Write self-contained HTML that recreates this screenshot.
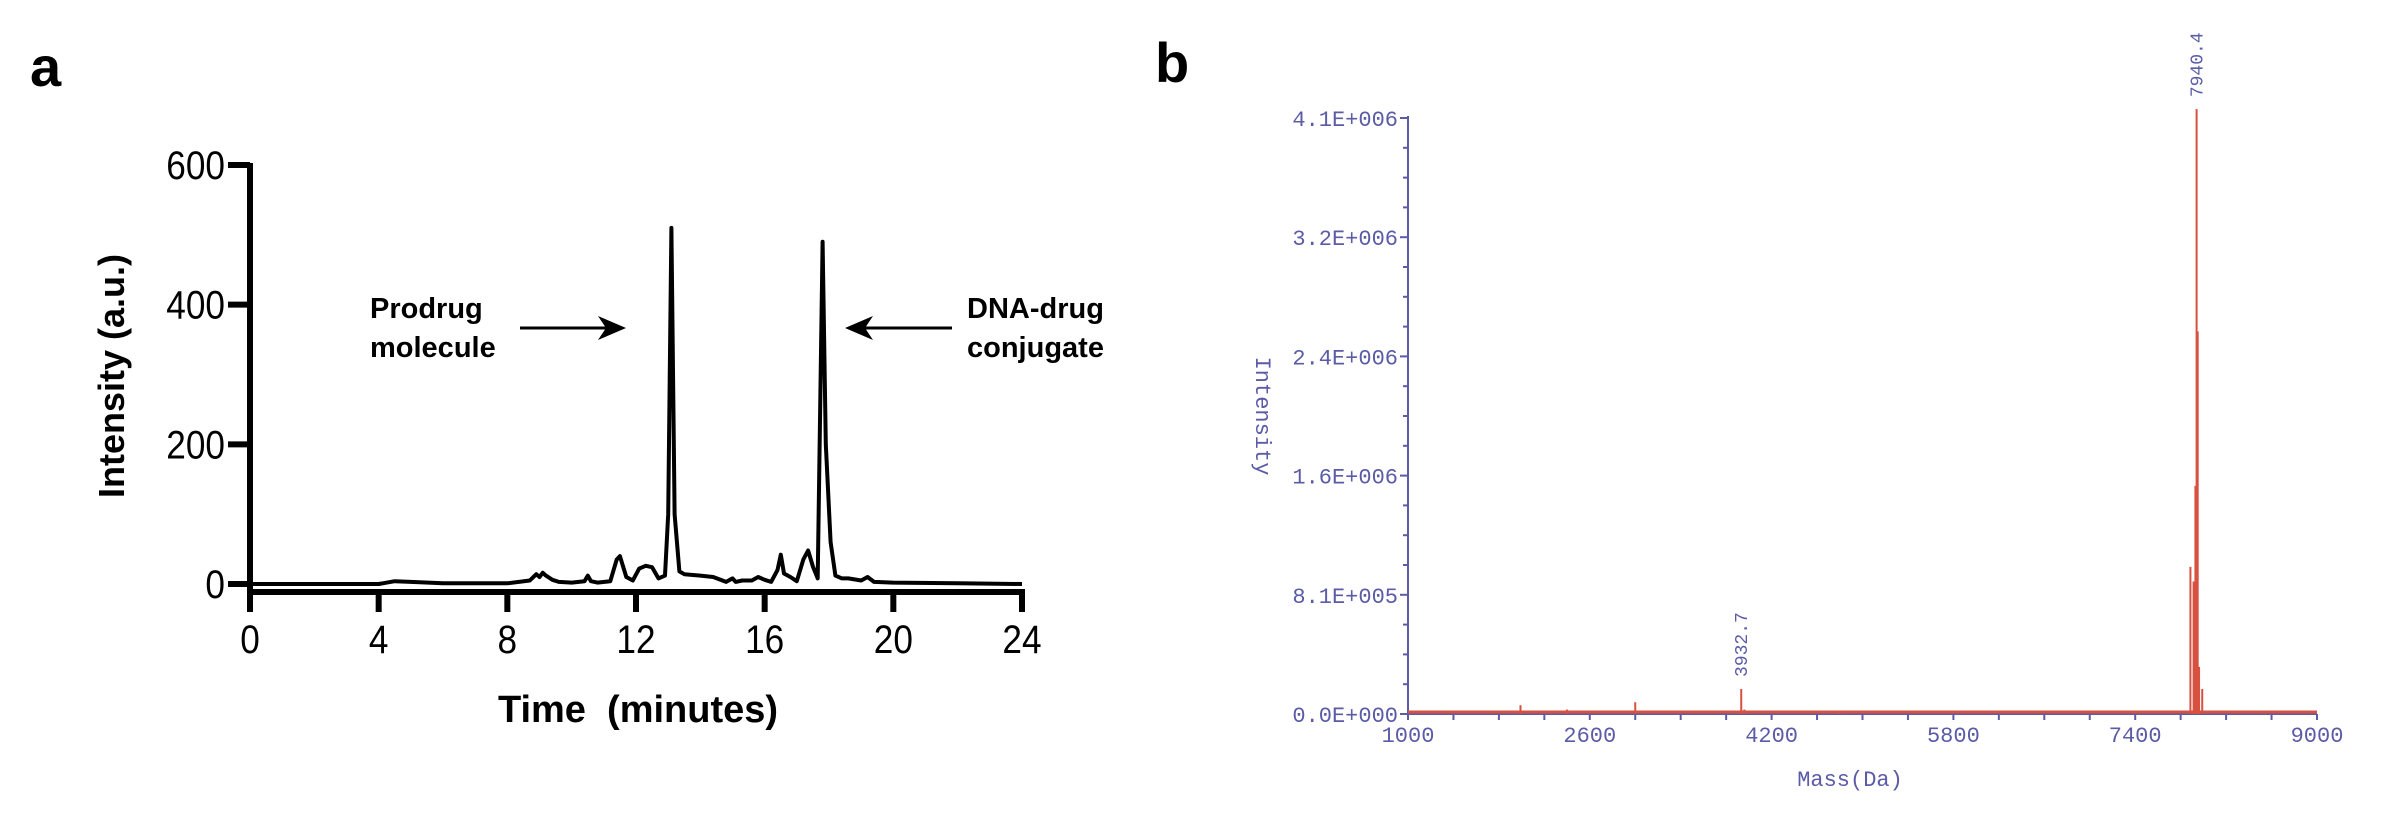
<!DOCTYPE html>
<html><head><meta charset="utf-8">
<style>
html,body{margin:0;padding:0;background:#fff;}
svg{display:block;}
</style></head>
<body>
<svg id="fig" width="2384" height="830" viewBox="0 0 2384 830" xmlns="http://www.w3.org/2000/svg">
  <text x="30" y="86" font-family="Liberation Sans, sans-serif" font-weight="bold" font-size="56" fill="#000">a</text>
  <text x="1155" y="82" font-family="Liberation Sans, sans-serif" font-weight="bold" font-size="56" fill="#000">b</text>
  <g id="chartA"></g>
  <g id="chartB"></g>
</svg>
<script>
// ---- Panel a data ----
const timeMin = [0,4,4.5,5,6,8,8.7,8.9,9.0,9.1,9.2,9.4,9.6,10,10.4,10.5,10.6,10.8,11.2,11.4,11.5,11.7,11.9,12.1,12.3,12.5,12.7,12.9,13.0,13.1,13.2,13.35,13.5,14,14.4,14.8,15.0,15.1,15.3,15.6,15.8,16.0,16.2,16.4,16.5,16.6,16.8,17.0,17.2,17.35,17.5,17.65,17.8,17.9,18.05,18.2,18.4,18.6,19,19.2,19.4,20,22,24];
const intensityAU = [0,0,4,3,1,1,5,14,10,16,12,6,3,2,4,12,4,2,4,35,40,10,5,22,26,24,8,12,100,510,100,18,14,12,10,3,8,3,5,5,10,6,3,20,42,15,10,4,35,48,25,8,490,200,60,12,8,8,5,10,3,2,1,0];
const aXTicks = [0,4,8,12,16,20,24];
const aYTicks = [0,200,400,600];

// ---- Panel b data ----
const massDa = [1990,2400,3000,3932.7,3960,4800,7886,7914,7930,7940.4,7950,7962,7990];
const msIntensity = [0.06e6,0.03e6,0.08e6,0.17e6,0.03e6,0.02e6,1.0e6,0.9e6,1.55e6,4.11e6,2.6e6,0.32e6,0.17e6];
const bXTicks = [1000,2600,4200,5800,7400,9000];
const bYTicks = [0,0.81e6,1.62e6,2.43e6,3.24e6,4.05e6];
const bYTickLabels = ["0.0E+000","8.1E+005","1.6E+006","2.4E+006","3.2E+006","4.1E+006"];
const peakLabels = ["3932.7","7940.4"];
const peakLabelMass = [3932.7,7940.4];
const peakLabelInt = [0.17e6,4.11e6];

const NS="http://www.w3.org/2000/svg";
function mk(tag, attrs, parent){const e=document.createElementNS(NS,tag);for(const k in attrs)e.setAttribute(k,attrs[k]);parent.appendChild(e);return e;}

// Panel a
(function(){
  const g=document.getElementById('chartA');
  const x0=250,x1=1022,y0=584,y1=165;
  const xs=t=>x0+(t-0)/(24-0)*(x1-x0);
  const ys=v=>y0-(v-0)/(600-0)*(y0-y1);
  const F='Liberation Sans, sans-serif';
  let e;
  e=mk('line',{x1:x0,y1:y1-2,x2:x0,y2:612,stroke:'#000','stroke-width':6},g);
  
  
  e=mk('line',{x1:x0-3,y1:592,x2:x1+3,y2:592,stroke:'#000','stroke-width':6},g);
  
  
  aYTicks.forEach(v=>{
    const t=mk('line',{x1:228,y1:ys(v),x2:x0,y2:ys(v),stroke:'#000','stroke-width':6},g);
    
    
    const l=mk('text',{x:225,y:ys(v)+14,'text-anchor':'end','font-family':F,'font-size':40,fill:'#000',transform:`translate(225 0) scale(0.88 1) translate(-225 0)`},g);
    l.textContent=v;
    
    
  });
  aXTicks.forEach(v=>{
    const t=mk('line',{x1:xs(v),y1:592,x2:xs(v),y2:612,stroke:'#000','stroke-width':6},g);
    
    
    const cx=xs(v);
    const l=mk('text',{x:cx,y:653,'text-anchor':'middle','font-family':F,'font-size':40,fill:'#000',transform:`translate(${cx} 0) scale(0.88 1) translate(${-cx} 0)`},g);
    l.textContent=v;
    
    
  });
  e=mk('text',{x:638,y:722,'text-anchor':'middle','font-family':F,'font-weight':'bold','font-size':38,fill:'#000',style:'white-space:pre'},g);
  e.textContent='Time  (minutes)';
  
  
  e=mk('text',{x:0,y:0,'text-anchor':'middle','font-family':F,'font-weight':'bold','font-size':36,fill:'#000',transform:'translate(124 376) rotate(-90)'},g);
  e.textContent='Intensity (a.u.)';
  
  
  let d='';
  timeMin.forEach((t,i)=>{d+=(i?'L':'M')+xs(t).toFixed(1)+' '+ys(intensityAU[i]).toFixed(1);});
  e=mk('path',{d:d,fill:'none',stroke:'#000','stroke-width':4,'stroke-linejoin':'round'},g);
  
  
  // annotations
  e=mk('text',{x:370,y:318,'font-family':F,'font-weight':'bold','font-size':29,fill:'#000'},g);
  e.textContent='Prodrug';
  
  
  e=mk('text',{x:370,y:357,'font-family':F,'font-weight':'bold','font-size':29,fill:'#000'},g);
  e.textContent='molecule';
  
  
  e=mk('line',{x1:520,y1:328,x2:612,y2:328,stroke:'#000','stroke-width':3},g);
  
  
  e=mk('path',{d:'M626 328 L598 316 L606 328 L598 340 Z',fill:'#000'},g);
  
  
  e=mk('line',{x1:858,y1:328,x2:952,y2:328,stroke:'#000','stroke-width':3},g);
  
  
  e=mk('path',{d:'M845 328 L873 316 L865 328 L873 340 Z',fill:'#000'},g);
  
  
  e=mk('text',{x:967,y:318,'font-family':F,'font-weight':'bold','font-size':29,fill:'#000'},g);
  e.textContent='DNA-drug';
  
  
  e=mk('text',{x:967,y:357,'font-family':F,'font-weight':'bold','font-size':29,fill:'#000'},g);
  e.textContent='conjugate';
  
  
})();

// Panel b
(function(){
  const g=document.getElementById('chartB');
  const x0=1408,x1=2317,y0=714,yTop=118;
  const xs=m=>x0+(m-1000)/(9000-1000)*(x1-x0);
  const ys=v=>y0-v/4.05e6*(y0-yTop);
  const F='Liberation Mono, monospace';
  const BL='#5b5ba6', RED='#d8503f';
  let e;
  e=mk('line',{x1:x0,y1:yTop-2,x2:x0,y2:y0,stroke:BL,'stroke-width':2},g);
  
  
  e=mk('line',{x1:x0,y1:y0,x2:x1,y2:y0,stroke:BL,'stroke-width':2},g);
  
  
  for(let i=0;i<bYTicks.length;i++){
    const y=ys(bYTicks[i]);
    const t=mk('line',{x1:x0-8,y1:y,x2:x0,y2:y,stroke:BL,'stroke-width':2},g);
    
    
    const l=mk('text',{x:x0-10,y:y+8,'text-anchor':'end','font-family':F,'font-size':22,fill:BL},g);
    l.textContent=bYTickLabels[i];
    
    
    if(i<bYTicks.length-1){
      for(let k=1;k<4;k++){
        const ym=ys(bYTicks[i]+(bYTicks[i+1]-bYTicks[i])*k/4);
        const m=mk('line',{x1:x0-5,y1:ym,x2:x0,y2:ym,stroke:BL,'stroke-width':2},g);
        
        
      }
    }
  }
  for(let m=1000;m<=9000;m+=400){
    const x=xs(m);
    const t=mk('line',{x1:x,y1:y0,x2:x,y2:y0+6,stroke:BL,'stroke-width':2},g);
    
    
  }
  bXTicks.forEach(v=>{
    const l=mk('text',{x:xs(v),y:742,'text-anchor':'middle','font-family':F,'font-size':22,fill:BL},g);
    l.textContent=v;
    
    
  });
  e=mk('text',{x:1850,y:786,'text-anchor':'middle','font-family':F,'font-size':22,fill:BL},g);
  e.textContent='Mass(Da)';
  
  
  e=mk('text',{x:0,y:0,'text-anchor':'middle','font-family':F,'font-size':22,fill:BL,transform:'translate(1256 416) rotate(90)'},g);
  e.textContent='Intensity';
  
  
  e=mk('line',{x1:x0,y1:y0-2,x2:x1,y2:y0-2,stroke:RED,'stroke-width':3},g);
  
  
  massDa.forEach((m,i)=>{
    const x=xs(m);
    const s=mk('line',{x1:x,y1:y0,x2:x,y2:ys(msIntensity[i]),stroke:RED,'stroke-width':2},g);
    
    
  });
  peakLabels.forEach((txt,i)=>{
    const x=xs(peakLabelMass[i])+6, y=ys(peakLabelInt[i])-12;
    const l=mk('text',{x:0,y:0,'font-family':F,'font-size':18,fill:BL,transform:`translate(${x} ${y}) rotate(-90)`},g);
    l.textContent=txt;
    
    
  });
})();
</script>
</body></html>
